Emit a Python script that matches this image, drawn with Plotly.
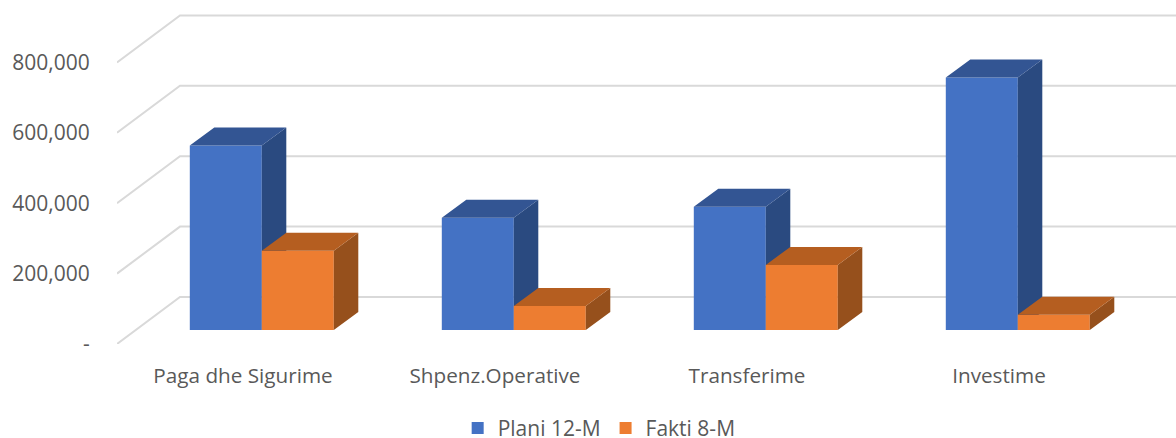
import plotly.graph_objects as go

categories = ["Paga dhe Sigurime", "Shpenz.Operative", "Transferime", "Investime"]
plani = [524000, 319000, 350000, 717000]
fakti = [225000, 68000, 185000, 43000]
tick_vals = [0, 200000, 400000, 600000, 800000]
tick_text = ["-", "200,000", "400,000", "600,000", "800,000"]

W, H = 1176, 438
L, B = 117, 94
PX_X = 252.0            # pixels per category
PX_Y = 70.4 / 200000    # pixels per value
centers = [i + 0.5 for i in range(len(categories))]

wall_dx, wall_dy = 63 / PX_X, 47 / PX_Y      # wall depth
off_dx, off_dy = 18.8 / PX_X, 14 / PX_Y      # bar front plane behind axis plane
bar_dx, bar_dy = 24.5 / PX_X, 18 / PX_Y      # bar depth
bar_w = 72 / PX_X
xmax = (W - L) / PX_X
ymax = (H - B) / PX_Y
FONT = "Open Sans"
TXT = "#595959"

fig = go.Figure()

# gridlines: diagonal on the side wall, then horizontal on the back wall
gx, gy = [], []
for v in tick_vals:
    gx += [0, wall_dx, xmax, None]
    gy += [v, v + wall_dy, v + wall_dy, None]
fig.add_trace(go.Scatter(x=gx, y=gy, mode="lines", line=dict(color="#D9D9D9", width=2),
                         showlegend=False, hoverinfo="skip", xaxis="x", yaxis="y"))


def faces(vals, left_of_center):
    xs = [c + off_dx - (bar_w if left_of_center else 0) for c in centers]
    top_x, top_y, side_x, side_y = [], [], [], []
    for x0, v in zip(xs, vals):
        x1 = x0 + bar_w
        t = off_dy + v
        top_x += [x0, x1, x1 + bar_dx, x0 + bar_dx, x0, None]
        top_y += [t, t, t + bar_dy, t + bar_dy, t, None]
        side_x += [x1, x1 + bar_dx, x1 + bar_dx, x1, x1, None]
        side_y += [off_dy, off_dy + bar_dy, t + bar_dy, t, off_dy, None]
    return xs, top_x, top_y, side_x, side_y


def add_series(name, vals, left, front, top, side, xa, ya):
    xs, tx, ty, sx, sy = faces(vals, left)
    fig.add_trace(go.Bar(x=[x + bar_w / 2 for x in xs], y=vals, base=off_dy, width=bar_w, name=name,
                         marker=dict(color=front, line=dict(width=0)), xaxis=xa, yaxis=ya))
    fig.add_trace(go.Scatter(x=sx, y=sy, mode="lines", fill="toself", fillcolor=side,
                             line=dict(width=0, color=side), showlegend=False, hoverinfo="skip", xaxis=xa, yaxis=ya))
    fig.add_trace(go.Scatter(x=tx, y=ty, mode="lines", fill="toself", fillcolor=top,
                             line=dict(width=0, color=top), showlegend=False, hoverinfo="skip", xaxis=xa, yaxis=ya))


add_series("Plani 12-M", plani, True, "#4472C4", "#335593", "#2A4A80", "x2", "y2")
add_series("Fakti 8-M", fakti, False, "#ED7D31", "#B55E20", "#96501C", "x3", "y3")

fig.update_layout(
    width=W, height=H, autosize=False,
    margin=dict(l=L, r=0, t=0, b=B, pad=0),
    paper_bgcolor="white", plot_bgcolor="white",
    barmode="overlay",
    font=dict(family=FONT, size=21, color=TXT),
    xaxis=dict(range=[0, xmax], tickmode="array", tickvals=centers, ticktext=categories,
               showgrid=False, zeroline=False, showline=False,
               ticks="outside", ticklen=13, tickcolor="rgba(0,0,0,0)",
               tickfont=dict(family=FONT, size=20.7, color=TXT)),
    yaxis=dict(range=[0, ymax], tickmode="array", tickvals=tick_vals, ticktext=tick_text,
               showgrid=False, zeroline=False, showline=False,
               ticks="outside", ticklen=22, tickcolor="rgba(0,0,0,0)",
               tickfont=dict(family=FONT, size=21, color=TXT)),
    xaxis2=dict(range=[0, xmax], overlaying="x", visible=False, matches="x"),
    yaxis2=dict(range=[0, ymax], overlaying="y", visible=False, matches="y"),
    xaxis3=dict(range=[0, xmax], overlaying="x", visible=False, matches="x"),
    yaxis3=dict(range=[0, ymax], overlaying="y", visible=False, matches="y"),
    legend=dict(orientation="h", xref="container", x=0.5095, xanchor="center",
                yref="container", y=0.069, yanchor="top",
                font=dict(family=FONT, size=21, color=TXT), bgcolor="rgba(0,0,0,0)"),
)

fig.write_html("out.html", config=dict(displayModeBar=False),
               post_script="document.body.style.margin='0';document.documentElement.style.overflow='hidden';")
